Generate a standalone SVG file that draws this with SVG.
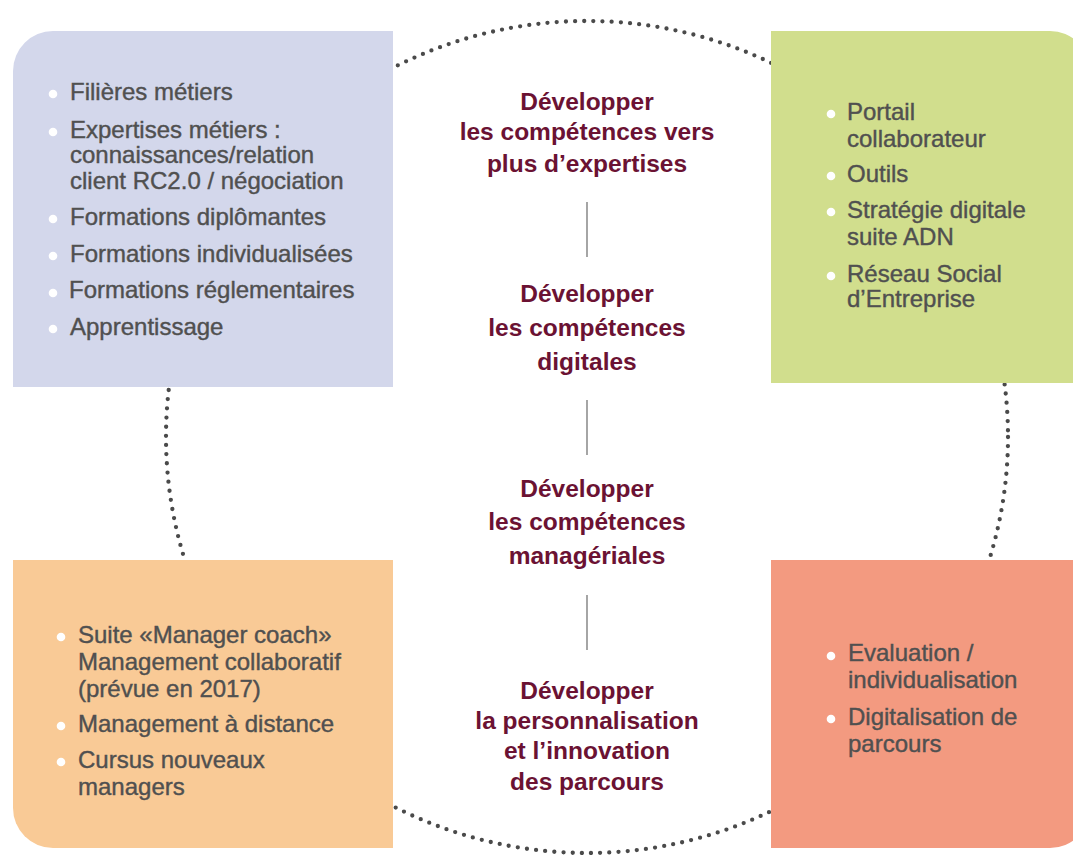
<svg xmlns="http://www.w3.org/2000/svg" width="1073" height="855" viewBox="0 0 1073 855">
<style>
.item{font-family:"Liberation Sans",Arial,sans-serif;font-size:24px;fill:#505050;stroke:#505050;stroke-width:0.4}
.head{font-family:"Liberation Sans",Arial,sans-serif;font-size:24.5px;font-weight:bold;fill:#6b1233;text-anchor:middle}
.bul{fill:#ffffff}
.sep{stroke:#6a6a6a;stroke-width:1.2}
.dots{fill:none;stroke:#4a4a4a;stroke-width:4.3;stroke-linecap:round;stroke-dasharray:0 9.2}
</style>
<rect width="1073" height="855" fill="#ffffff"/>
<g id="connectors">
<ellipse class="dots" cx="587" cy="437" rx="421" ry="416"/>
<line class="sep" x1="587" y1="202" x2="587" y2="257"/>
<line class="sep" x1="587" y1="400" x2="587" y2="455"/>
<line class="sep" x1="587" y1="595" x2="587" y2="650"/>
</g>
<g id="box-blue">
<path d="M13,71 A40,40 0 0 1 53,31 L393,31 L393,387 L13,387 Z" fill="#d3d7eb"/>
<circle class="bul" cx="53" cy="94" r="4.3"/>
<text class="item" x="70" y="100">Filières métiers</text>
<circle class="bul" cx="53" cy="132" r="4.3"/>
<text class="item" x="70" y="138">Expertises métiers :</text>
<text class="item" x="70" y="163">connaissances/relation</text>
<text class="item" x="70" y="189">client RC2.0 / négociation</text>
<circle class="bul" cx="53" cy="219" r="4.3"/>
<text class="item" x="70" y="225">Formations diplômantes</text>
<circle class="bul" cx="53" cy="256" r="4.3"/>
<text class="item" x="70" y="262">Formations individualisées</text>
<circle class="bul" cx="53" cy="293" r="4.3"/>
<text class="item" x="69" y="298">Formations réglementaires</text>
<circle class="bul" cx="53" cy="329" r="4.3"/>
<text class="item" x="70" y="335">Apprentissage</text>
</g>
<g id="box-green">
<path d="M771,31 L1050,31 A40,40 0 0 1 1090,71 L1090,383 L771,383 Z" fill="#d1de8d"/>
<circle class="bul" cx="831" cy="114" r="4.3"/>
<text class="item" x="847" y="120">Portail</text>
<text class="item" x="847" y="147">collaborateur</text>
<circle class="bul" cx="831" cy="176" r="4.3"/>
<text class="item" x="847" y="182">Outils</text>
<circle class="bul" cx="831" cy="212" r="4.3"/>
<text class="item" x="847" y="218">Stratégie digitale</text>
<text class="item" x="847" y="245">suite ADN</text>
<circle class="bul" cx="831" cy="276" r="4.3"/>
<text class="item" x="847" y="282">Réseau Social</text>
<text class="item" x="847" y="307">d’Entreprise</text>
</g>
<g id="box-orange">
<path d="M13,560 L393,560 L393,848 L53,848 A40,40 0 0 1 13,808 Z" fill="#f9ca96"/>
<circle class="bul" cx="61" cy="637" r="4.3"/>
<text class="item" x="78" y="643">Suite «Manager coach»</text>
<text class="item" x="78" y="670">Management collaboratif</text>
<text class="item" x="78" y="697">(prévue en 2017)</text>
<circle class="bul" cx="61" cy="726" r="4.3"/>
<text class="item" x="78" y="732">Management à distance</text>
<circle class="bul" cx="61" cy="762" r="4.3"/>
<text class="item" x="78" y="768">Cursus nouveaux</text>
<text class="item" x="78" y="795">managers</text>
</g>
<g id="box-salmon">
<path d="M771,560 L1090,560 L1090,808 A40,40 0 0 1 1050,848 L771,848 Z" fill="#f39a80"/>
<circle class="bul" cx="831" cy="656" r="4.3"/>
<text class="item" x="848" y="661">Evaluation /</text>
<text class="item" x="848" y="688">individualisation</text>
<circle class="bul" cx="831" cy="719" r="4.3"/>
<text class="item" x="848" y="725">Digitalisation de</text>
<text class="item" x="848" y="752">parcours</text>
</g>
<g id="center-1">
<text class="head" x="587" y="110">Développer</text>
<text class="head" x="587" y="140">les compétences vers</text>
<text class="head" x="587" y="172">plus d’expertises</text>
</g>
<g id="center-2">
<text class="head" x="587" y="302">Développer</text>
<text class="head" x="587" y="336">les compétences</text>
<text class="head" x="587" y="370">digitales</text>
</g>
<g id="center-3">
<text class="head" x="587" y="497">Développer</text>
<text class="head" x="587" y="530">les compétences</text>
<text class="head" x="587" y="564">managériales</text>
</g>
<g id="center-4">
<text class="head" x="587" y="699">Développer</text>
<text class="head" x="587" y="729">la personnalisation</text>
<text class="head" x="587" y="759">et l’innovation</text>
<text class="head" x="587" y="790">des parcours</text>
</g>
</svg>
